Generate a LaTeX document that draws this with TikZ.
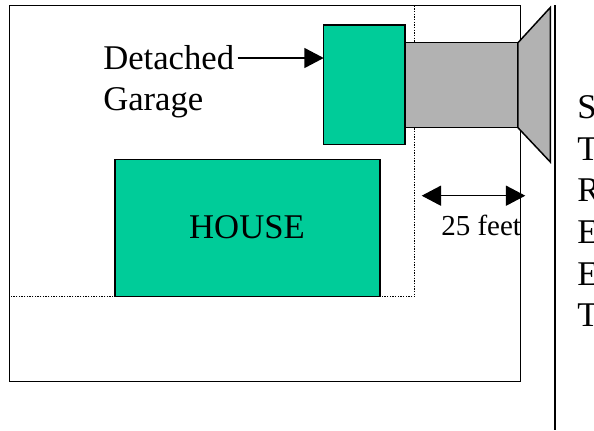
\documentclass[tikz,border=0pt]{standalone}
\usepackage{fontspec}
\setmainfont{Liberation Serif}
\usetikzlibrary{arrows.meta}
\definecolor{grn}{RGB}{0,204,153}
\definecolor{gry}{RGB}{178,178,178}
\tikzset{x=0.75pt,y=-0.75pt,
 solid box/.style={draw=black,line width=1.1pt,outer sep=0pt},
 lot/.style={draw=black,line width=0.95pt},
 dot line/.style={draw=black,line width=1pt,dash pattern=on 1pt off 1pt},
 big/.style={font=\fontsize{26pt}{30pt}\selectfont,anchor=base west,inner sep=0pt},
 small/.style={font=\fontsize{21.75pt}{25pt}\selectfont,anchor=base west,inner sep=0pt},
 arr/.style={draw=black,line width=1.1pt,{Triangle[length=14.5pt,width=15pt]}-{Triangle[length=14.5pt,width=15pt]}},
 arrone/.style={draw=black,line width=1.1pt,-{Triangle[length=14.5pt,width=15pt]}}}
\begin{document}
\begin{tikzpicture}
\useasboundingbox[fill=white] (0,0) rectangle (594,430);
\draw[lot] (9.5,5.5) rectangle (520.8,381.5);
\draw[dot line] (414.5,5.5) -- (414.5,296.5) -- (11,296.5);
\draw[solid box,fill=gry] (404,42.7) rectangle (518,127.7);
\draw[solid box,fill=gry] (518,42.7) -- (550.3,7.5) -- (550.3,162) -- (518,127.7) -- cycle;
\node[solid box,fill=grn,minimum width=61.1pt,minimum height=89.5pt,inner sep=0pt,anchor=north west] (garage) at (323.7,25) {};
\node[solid box,fill=grn,minimum width=198.9pt,minimum height=103pt,inner sep=0pt,anchor=north west] (house) at (114.8,159.3) {};
\node[big,anchor=base] at (247,238) {HOUSE};
\node[big] (det) at (103,69.3) {Detached};
\node[big] at (103,110.5) {Garage};
\coordinate (astart) at (237.7,58);
\draw[arrone] (astart) -- (garage.west |- astart);
\coordinate (a1) at (421.7,195.7);
\coordinate (a2) at (525.3,195.7);
\draw[arr] (a1) -- (a2);
\node[small] at (441,235) {25 feet};
\draw[black,line width=0.95pt] (555,5) -- (555,430);
\foreach \t/\yy in {S/118,T/160,R/201,E/243,E/285,T/326}{\node[big] at (577,\yy) {\t};}
\end{tikzpicture}
\end{document}
